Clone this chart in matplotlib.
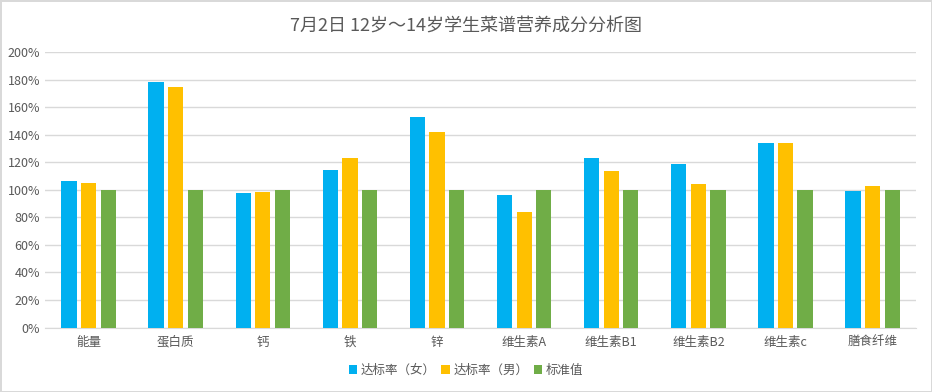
import numpy as np
import matplotlib
matplotlib.use('Agg')
from matplotlib import pyplot as plt
from matplotlib.ticker import PercentFormatter

plt.rcParams['font.family'] = ['Noto Sans CJK SC', 'DejaVu Sans']

# Data.
categories = ['能量', '蛋白质', '钙', '铁', '锌', '维生素A', '维生素B1', '维生素B2', '维生素c', '膳食纤维']
girls = [106.5, 178.5, 97.8, 114.5, 153.0, 96.4, 123.3, 118.9, 134.2, 99.3]
boys = [105.1, 174.9, 98.5, 123.3, 142.2, 84.0, 113.8, 104.4, 134.2, 102.9]
standard = [100, 100, 100, 100, 100, 100, 100, 100, 100, 100]
series_names = ['达标率（女）', '达标率（男）', '标准值']
colors = ['#00B0F0', '#FFC000', '#70AD47']

fig = plt.figure(figsize=(9.32, 3.92), dpi=100)
fig.patch.set_edgecolor('#D9D9D9')
fig.patch.set_linewidth(2)
ax = fig.add_axes([0.0483, 0.1645, 0.9347, 0.7025])

x = np.arange(len(categories))
width = 0.175
step = 0.225
for i, (vals, name, c) in enumerate(zip([girls, boys, standard], series_names, colors)):
    ax.bar(x + (i - 1) * step, vals, width, color=c, label=name, zorder=3)

ax.set_xlim(-0.5, len(categories) - 0.5)
ax.set_ylim(0, 200)
ax.set_yticks(np.arange(0, 201, 20))
ax.yaxis.set_major_formatter(PercentFormatter(decimals=0))
ax.set_xticks(x)
ax.set_xticklabels(categories)
ax.grid(axis='y', color='#D9D9D9', linewidth=1, zorder=0)
for s in ['top', 'right', 'left']:
    ax.spines[s].set_visible(False)
ax.spines['bottom'].set_color('#D9D9D9')
ax.tick_params(axis='both', length=0, labelsize=9, colors='#595959')
ax.tick_params(axis='x', pad=6)

fig.suptitle('7月2日 12岁～14岁学生菜谱营养成分分析图', y=0.955, fontsize=13, color='#595959')
fig.legend(loc='center', bbox_to_anchor=(0.5, 0.056), ncol=3, frameon=False,
           fontsize=9, labelcolor='#595959', handlelength=0.7, handleheight=0.7,
           handletextpad=0.3, columnspacing=0.4)

fig.savefig('out.png', dpi=100)
